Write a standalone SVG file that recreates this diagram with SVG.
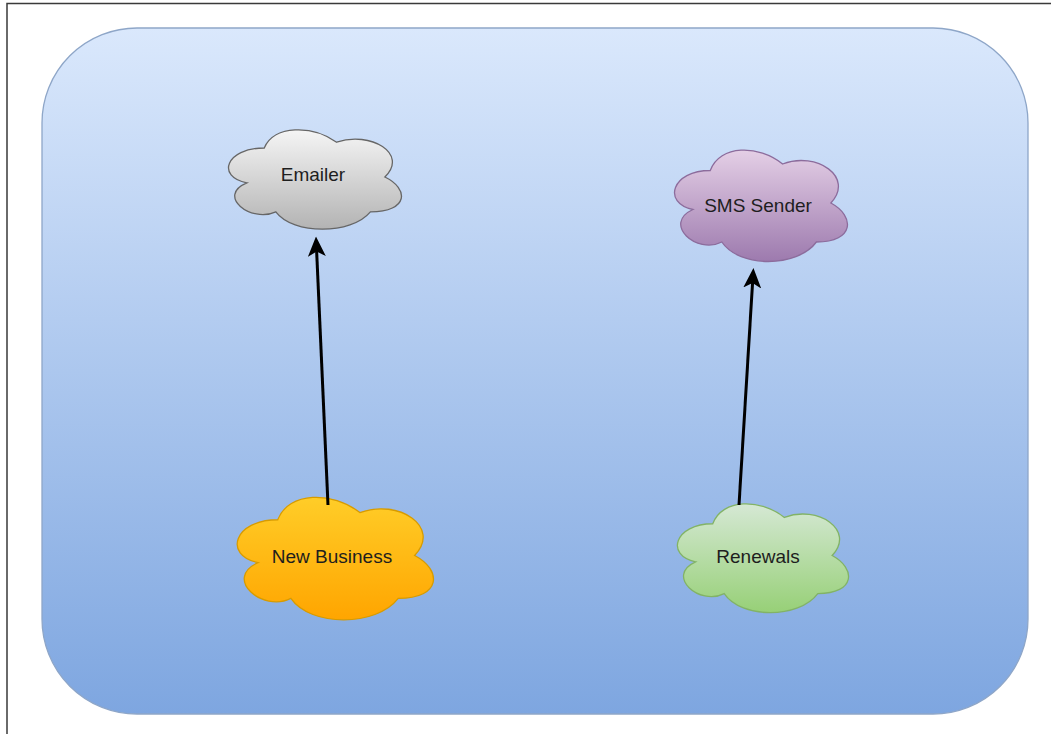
<svg xmlns="http://www.w3.org/2000/svg" width="1051" height="734" viewBox="0 0 1051 734">
  <style>
    .lbl { font-family: "Liberation Sans", Arial, sans-serif; font-size: 19px; fill: #1e1e1e; text-anchor: middle; }
    .cloud { stroke-width: 1.3; }
    .conn { fill: none; stroke: #000; stroke-width: 3; }
  </style>
  <defs>
    <linearGradient id="gBg" x1="0" y1="0" x2="0" y2="1">
      <stop offset="0" stop-color="#dae8fc"/>
      <stop offset="1" stop-color="#7ea6e0"/>
    </linearGradient>
    <linearGradient id="gGray" x1="0" y1="0" x2="0" y2="1">
      <stop offset="0" stop-color="#f5f5f5"/>
      <stop offset="1" stop-color="#b3b3b3"/>
    </linearGradient>
    <linearGradient id="gPurple" x1="0" y1="0" x2="0" y2="1">
      <stop offset="0" stop-color="#e4cfe6"/>
      <stop offset="1" stop-color="#9d7aae"/>
    </linearGradient>
    <linearGradient id="gOrange" x1="0" y1="0" x2="0" y2="1">
      <stop offset="0" stop-color="#ffcd28"/>
      <stop offset="1" stop-color="#ffa500"/>
    </linearGradient>
    <linearGradient id="gGreen" x1="0" y1="0" x2="0" y2="1">
      <stop offset="0" stop-color="#d5e8d4"/>
      <stop offset="1" stop-color="#97d077"/>
    </linearGradient>
    <marker id="arrow" markerUnits="userSpaceOnUse" viewBox="0 0 20 18" markerWidth="20" markerHeight="18" refX="6" refY="9" orient="auto">
      <path d="M0,0 L20,9 L0,18 L5,9 Z" fill="#000"/>
    </marker>
  </defs>

  <g id="frame">
    <path d="M7,734 L7,3.5 L1051,3.5" fill="none" stroke="#3a3a3a" stroke-width="1.5"/>
  </g>

  <g id="container">
    <rect x="42" y="28" width="986" height="686" rx="95" ry="95" fill="url(#gBg)" stroke="#8ea6c8" stroke-width="1.3"/>
  </g>

  <g id="emailer">
    <path class="cloud" fill="url(#gGray)" stroke="#666666" d="M264.25,148 C225.65,148 216,177 246.88,182.8 C216,195.56 250.74,223.4 275.83,211.8 C293.2,235 351.1,235 370.4,211.8 C409,211.8 409,188.6 384.88,177 C409,153.8 370.4,130.6 336.63,142.2 C312.5,124.8 273.9,124.8 264.25,148 Z"/>
    <text class="lbl" x="313" y="181">Emailer</text>
  </g>

  <g id="sms-sender">
    <path class="cloud" fill="url(#gPurple)" stroke="#8c6c9c" d="M710.25,170.5 C671.65,170.5 662,203 692.88,209.5 C662,223.8 696.74,255 721.83,242 C739.2,268 797.1,268 816.4,242 C855,242 855,216 830.88,203 C855,177 816.4,151 782.63,164 C758.5,144.5 719.9,144.5 710.25,170.5 Z"/>
    <text class="lbl" x="758" y="212">SMS Sender</text>
  </g>

  <g id="new-business">
    <path class="cloud" fill="url(#gOrange)" stroke="#d79b00" d="M277.75,519.75 C233.95,519.75 223,555.5 258.04,562.65 C223,578.38 262.42,612.7 290.89,598.4 C310.6,627 376.3,627 398.2,598.4 C442,598.4 442,569.8 414.63,555.5 C442,526.9 398.2,498.3 359.88,512.6 C332.5,491.15 288.7,491.15 277.75,519.75 Z"/>
    <text class="lbl" x="332" y="563">New Business</text>
  </g>

  <g id="renewals">
    <path class="cloud" fill="url(#gGreen)" stroke="#82b366" d="M712.75,523.75 C674.55,523.75 665,555.5 695.56,561.85 C665,575.82 699.38,606.3 724.21,593.6 C741.4,619 798.7,619 817.8,593.6 C856,593.6 856,568.2 832.13,555.5 C856,530.1 817.8,504.7 784.38,517.4 C760.5,498.35 722.3,498.35 712.75,523.75 Z"/>
    <text class="lbl" x="758" y="563">Renewals</text>
  </g>

  <g id="connectors">
    <line class="conn" x1="328" y1="505" x2="316.6" y2="250.5" marker-end="url(#arrow)"/>
    <line class="conn" x1="739" y1="505" x2="752.6" y2="282" marker-end="url(#arrow)"/>
  </g>
</svg>
